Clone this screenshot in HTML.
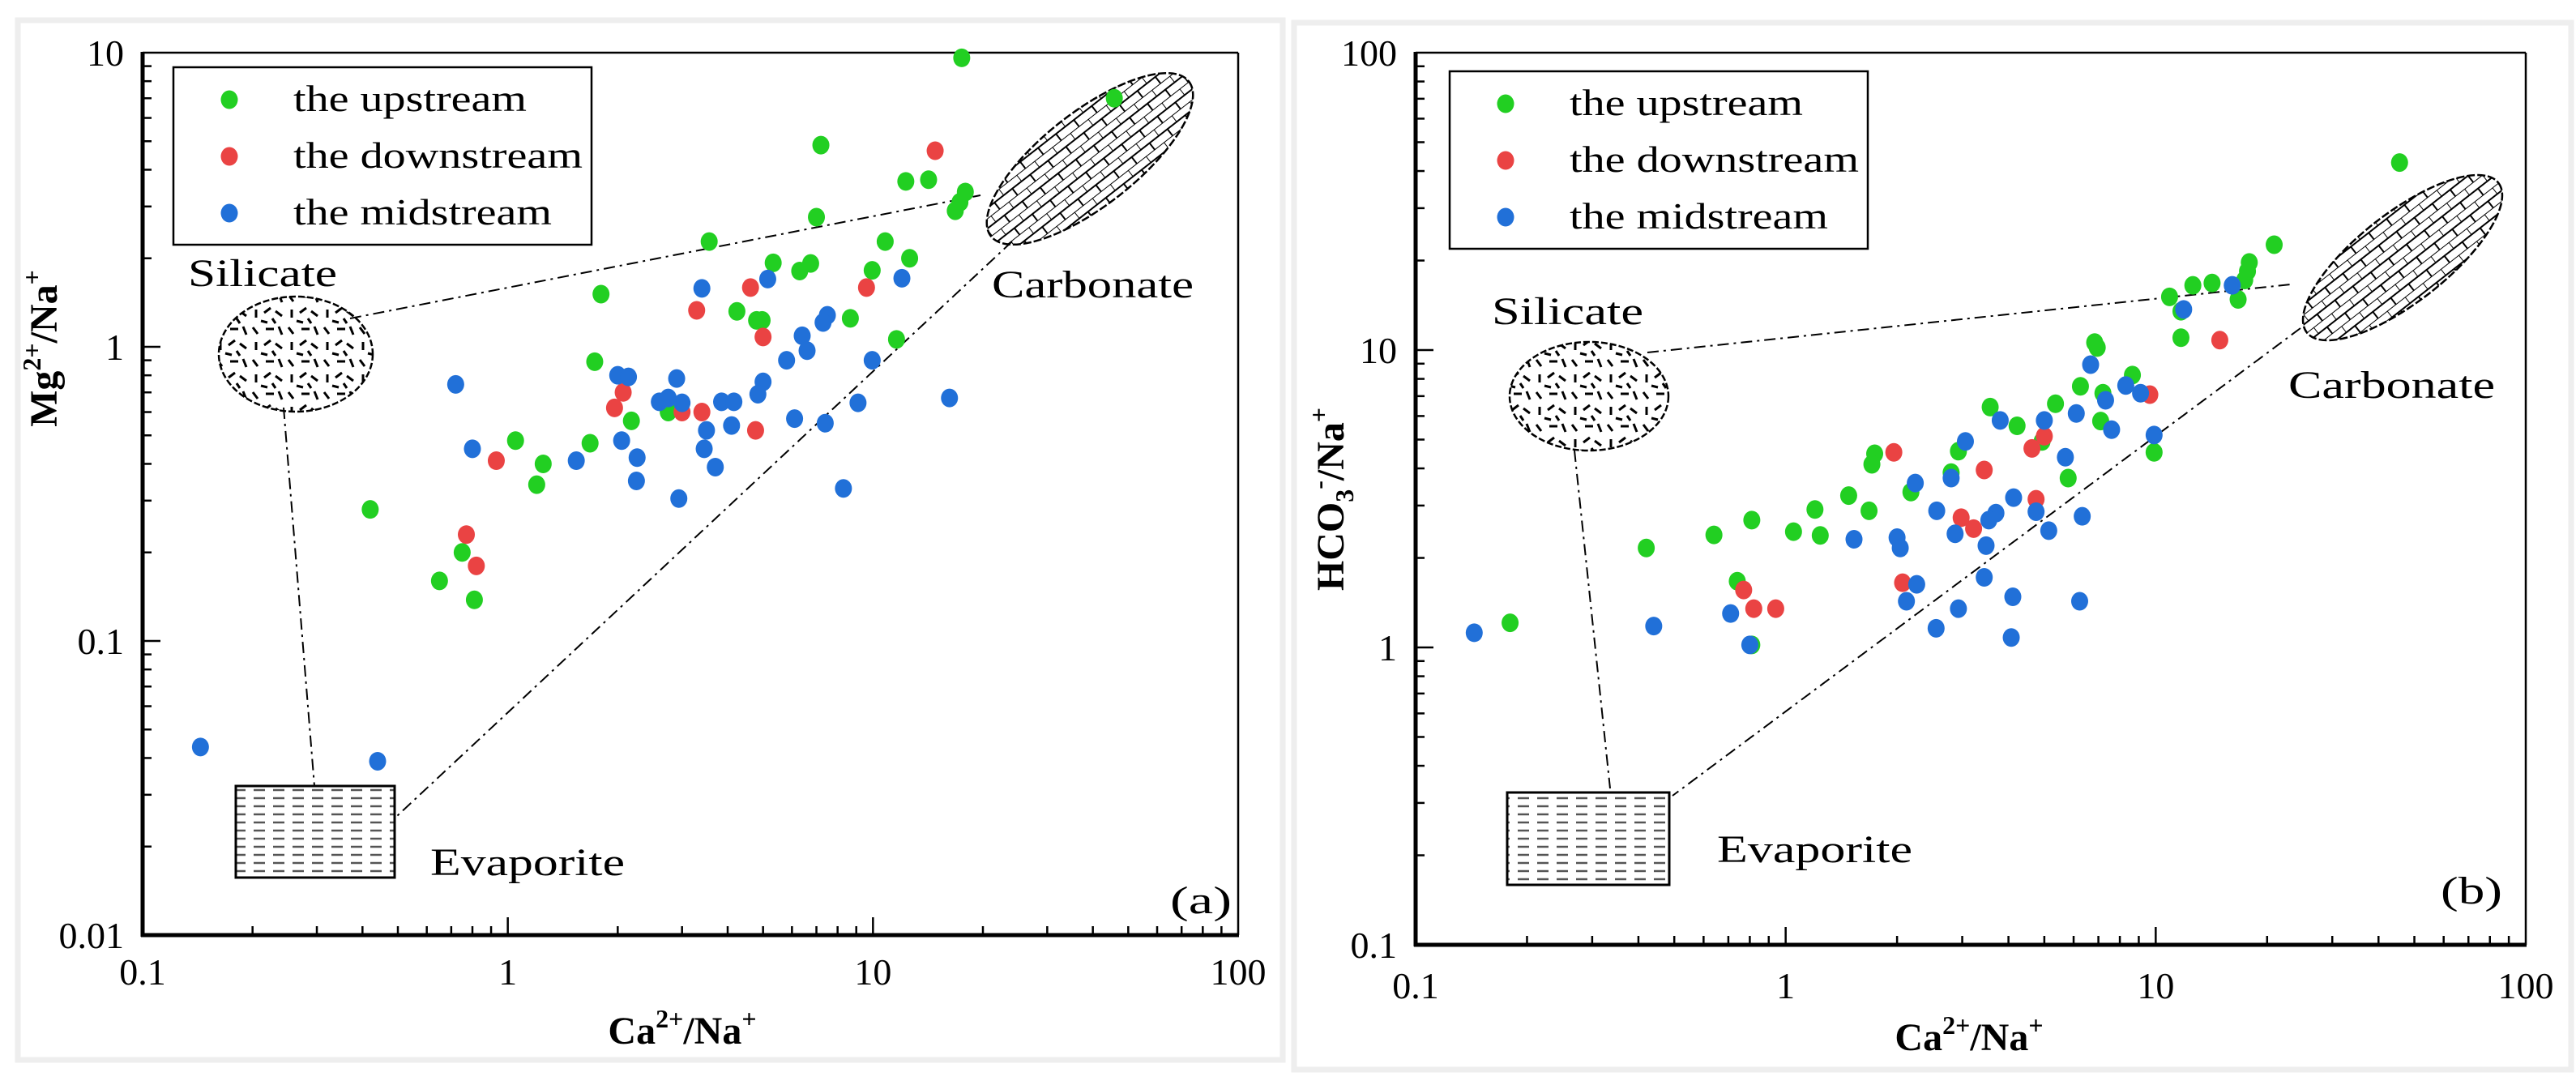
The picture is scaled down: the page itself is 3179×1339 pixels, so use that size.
<!DOCTYPE html>
<html><head><meta charset="utf-8"><style>
html,body{margin:0;padding:0;background:#fff;}
svg{display:block;}
text{font-family:"Liberation Serif","DejaVu Serif",serif;fill:#000;}
</style></head><body>
<svg id="fig" width="3179" height="1339" viewBox="0 0 3179 1339" xmlns="http://www.w3.org/2000/svg">
<defs>
<pattern id="silPat" patternUnits="userSpaceOnUse" width="44" height="40">
<g stroke="#000" stroke-width="3">
<line x1="4" y1="4" x2="10" y2="12"/><line x1="20" y1="6" x2="30" y2="6"/><line x1="36" y1="3" x2="40" y2="13"/>
<line x1="8" y1="22" x2="8" y2="32"/><line x1="18" y1="26" x2="26" y2="20"/><line x1="32" y1="24" x2="40" y2="30"/>
<line x1="14" y1="36" x2="22" y2="38"/><line x1="28" y1="33" x2="32" y2="39"/>
</g></pattern>
<pattern id="evaPat" patternUnits="userSpaceOnUse" width="24" height="10">
<line x1="1" y1="5" x2="15" y2="5" stroke="#555" stroke-width="2.5"/></pattern>
<pattern id="carPat" patternUnits="userSpaceOnUse" width="28" height="20">
<g stroke="#000" stroke-width="2" fill="none"><line x1="0" y1="0" x2="28" y2="0"/><line x1="0" y1="10" x2="28" y2="10"/>
<line x1="0" y1="0" x2="0" y2="10"/><line x1="14" y1="10" x2="14" y2="20"/></g></pattern>
</defs>
<rect x="22" y="25" width="1561" height="1283" fill="none" stroke="#eeeeee" stroke-width="7"/>
<rect x="1597" y="28" width="1576" height="1292" fill="none" stroke="#eeeeee" stroke-width="7"/>
<g id="pa"></g>
<g id="pb"></g>
</svg>
<script>
// ---- Panel (a) data: Ca2+/Na+ vs Mg2+/Na+
const aUpX=[17.5,45.8,7.2,12.3,14.2,17.9,16.8,17.3,7.0,3.56,10.8,12.6,9.95,5.33,6.75,6.3,1.8,4.24,4.8,4.97,8.67,11.6,1.73,2.18,2.75,1.68,1.05,1.25,1.2,0.42,0.75,0.65,0.81];
const aUpY=[9.6,7.0,4.85,3.65,3.7,3.36,2.9,3.1,2.76,2.28,2.28,2.0,1.82,1.93,1.92,1.81,1.51,1.32,1.23,1.23,1.25,1.06,0.89,0.56,0.6,0.47,0.48,0.40,0.34,0.28,0.20,0.16,0.138];
const aDownX=[14.8,4.62,9.6,3.29,5.0,2.07,1.96,3.0,3.4,4.77,0.93,0.77,0.82];
const aDownY=[4.64,1.59,1.59,1.33,1.08,0.70,0.62,0.60,0.60,0.52,0.41,0.23,0.18];
const aMidX=[5.15,3.4,12.0,7.5,7.3,6.4,5.8,6.6,9.95,0.72,2.0,2.14,2.9,5.0,4.84,2.6,3.0,2.75,3.85,4.16,9.1,16.2,3.5,4.1,6.1,7.4,2.05,0.8,1.54,2.26,3.45,3.7,2.25,2.94,8.3,0.144,0.44];
const aMidY=[1.70,1.58,1.71,1.28,1.21,1.09,0.90,0.97,0.90,0.745,0.80,0.79,0.78,0.76,0.69,0.65,0.645,0.67,0.65,0.65,0.645,0.67,0.52,0.54,0.57,0.55,0.48,0.45,0.41,0.42,0.45,0.39,0.35,0.305,0.33,0.0436,0.039];
const aYTicks=["0.01","0.1","1","10"];
// ---- Panel (b) data: Ca2+/Na+ vs HCO3-/Na+
const bUpX=[45.6,20.9,17.9,17.7,17.4,16.7,14.2,12.6,10.9,11.7,11.7,6.84,6.95,8.65,6.26,7.2,5.36,7.1,3.57,4.22,4.93,5.8,9.9,1.74,1.71,2.93,2.8,2.18,1.48,1.68,1.2,0.81,1.05,1.24,0.64,0.42,0.74,0.18,0.81];
const bUpY=[42.7,22.6,19.7,18.4,17.2,14.8,16.8,16.5,15.1,13.5,11.0,10.6,10.2,8.24,7.55,7.16,6.6,5.77,6.43,5.56,4.93,3.71,4.53,4.48,4.13,4.57,3.87,3.33,3.24,2.88,2.91,2.68,2.45,2.38,2.39,2.16,1.67,1.21,1.02];
const bDownX=[14.9,9.64,1.96,3.44,5.0,4.63,4.75,2.98,3.22,0.77,0.82,0.94,2.07];
const bDownY=[10.8,7.08,4.53,3.95,5.13,4.67,3.15,2.73,2.51,1.56,1.35,1.35,1.65];
const bMidX=[16.1,11.9,6.67,8.3,9.1,7.32,6.1,3.8,5.0,7.6,9.9,3.06,5.7,2.8,2.24,4.13,4.75,6.33,2.56,3.7,3.54,2.87,5.14,1.53,2.0,2.04,3.48,3.44,2.26,2.12,4.11,6.23,2.93,0.71,2.55,4.07,0.44,0.144,0.8];
const bMidY=[16.5,13.7,8.93,7.6,7.16,6.78,6.12,5.8,5.8,5.4,5.18,4.93,4.36,3.71,3.57,3.19,2.86,2.76,2.88,2.83,2.68,2.41,2.47,2.31,2.34,2.16,2.2,1.72,1.63,1.43,1.48,1.43,1.35,1.3,1.16,1.08,1.18,1.12,1.02];
const bYTicks=["0.1","1","10","100"];
const xTicks=["0.1","1","10","100"];
const seriesNames=["the upstream","the downstream","the midstream"];
const seriesColors=["#22cf22","#ea4343","#2170d8"];

const NS="http://www.w3.org/2000/svg";
function mk(tag,attrs,parent){const e=document.createElementNS(NS,tag);for(const k in attrs)e.setAttribute(k,attrs[k]);parent.appendChild(e);return e;}

function panel(g,cfg){
  const sx=v=>cfg.x0+(Math.log10(v)-cfg.lxmin)/(cfg.lxmax-cfg.lxmin)*(cfg.x1-cfg.x0);
  const sy=v=>cfg.y0-(Math.log10(v)-cfg.lymin)/(cfg.lymax-cfg.lymin)*(cfg.y0-cfg.y1);
  let e=mk('line',{x1:cfg.x0,y1:cfg.y1,x2:cfg.x1,y2:cfg.y1,stroke:'#000','stroke-width':2.5},g);
  
  e=mk('line',{x1:cfg.x1,y1:cfg.y1,x2:cfg.x1,y2:cfg.y0,stroke:'#000','stroke-width':2.5},g);
  
  e=mk('line',{x1:cfg.x0-2,y1:cfg.y0,x2:cfg.x1+1,y2:cfg.y0,stroke:'#000','stroke-width':5},g);
  
  e=mk('line',{x1:cfg.x0,y1:cfg.y1-1,x2:cfg.x0,y2:cfg.y0+2,stroke:'#000','stroke-width':5},g);
  
  for(let d=cfg.lxmin;d<cfg.lxmax;d++){for(let m=1;m<=9;m++){const v=m*Math.pow(10,d);const x=sx(v);const L=m===1?22:11;
    e=mk('line',{x1:x,y1:cfg.y0,x2:x,y2:cfg.y0-L,stroke:'#000','stroke-width':2.5},g);
    }}
  for(let d=cfg.lymin;d<cfg.lymax;d++){for(let m=1;m<=9;m++){const v=m*Math.pow(10,d);const y=sy(v);const L=m===1?22:11;
    e=mk('line',{x1:cfg.x0,y1:y,x2:cfg.x0+L,y2:y,stroke:'#000','stroke-width':2.5},g);
    }}
  xTicks.forEach((t,i)=>{const x=sx(Math.pow(10,cfg.lxmin+i));
    e=mk('text',{x:x,y:cfg.xlabY,'font-size':46,'text-anchor':'middle'},g);e.textContent=t;
    });
  cfg.yTicks.forEach((t,i)=>{const y=sy(Math.pow(10,cfg.lymin+i));
    e=mk('text',{x:cfg.ylabX,y:y+16,'font-size':46,'text-anchor':'end'},g);e.textContent=t;
    });
  const A=cfg.ann;
  e=mk('polyline',{points:A.l1,fill:'none',stroke:'#000','stroke-width':2,'stroke-dasharray':'14 6 3 6'},g);
  
  e=mk('polyline',{points:A.l2,fill:'none',stroke:'#000','stroke-width':2,'stroke-dasharray':'14 6 3 6'},g);
  
  e=mk('polyline',{points:A.l3,fill:'none',stroke:'#000','stroke-width':2,'stroke-dasharray':'14 6 3 6'},g);
  
  e=mk('ellipse',{cx:A.sil[0],cy:A.sil[1],rx:A.sil[2],ry:A.sil[3],fill:'url(#silPat)',stroke:'#000','stroke-width':2.5,'stroke-dasharray':'8 3'},g);
  
  e=mk('rect',{x:A.eva[0],y:A.eva[1],width:A.eva[2],height:A.eva[3],fill:'url(#evaPat)',stroke:'#000','stroke-width':3},g);
  
  e=mk('ellipse',{cx:0,cy:0,rx:A.car[2],ry:A.car[3],fill:'url(#carPat)',stroke:'#000','stroke-width':2.5,'stroke-dasharray':'10 3',transform:`translate(${A.car[0]},${A.car[1]}) rotate(-38)`},g);
  
  const lab=(txt,x,y,w,name)=>{const t=mk('text',{x:x,y:y,'font-size':48,textLength:w,lengthAdjust:'spacingAndGlyphs'},g);t.textContent=txt;
    };
  lab('Silicate',A.silT[0],A.silT[1],A.silT[2],'silicate-label');
  lab('Evaporite',A.evaT[0],A.evaT[1],A.evaT[2],'evaporite-label');
  lab('Carbonate',A.carT[0],A.carT[1],A.carT[2],'carbonate-label');
  lab(cfg.tag,A.tagT[0],A.tagT[1],A.tagT[2],'panel-tag');
  const sets=[[cfg.upX,cfg.upY],[cfg.downX,cfg.downY],[cfg.midX,cfg.midY]];
  sets.forEach((s,si)=>{s[0].forEach((xv,i)=>{
    const c=mk('ellipse',{cx:sx(xv),cy:sy(s[1][i]),rx:10.5,ry:11.5,fill:seriesColors[si]},g);
    
    });});
  const L=cfg.leg;
  e=mk('rect',{x:L.x,y:L.y,width:516,height:219,fill:'#fff',stroke:'#000','stroke-width':2.5},g);
  
  const lw=[288,357,319];
  seriesNames.forEach((n,i)=>{const cy=L.y+40+i*70;
    const m=mk('ellipse',{cx:L.x+69,cy:cy,rx:10.5,ry:11.5,fill:seriesColors[i]},g);
    
    const t=mk('text',{x:L.x+148,y:cy+14,'font-size':46,textLength:lw[i],lengthAdjust:'spacingAndGlyphs'},g);t.textContent=n;
    });
  const xt=mk('text',{x:cfg.xt[0],y:cfg.xt[1],'font-size':48,'font-weight':'bold','text-anchor':'middle'},g);
  
  xt.innerHTML='Ca<tspan dy="-20" font-size="32">2+</tspan><tspan dy="20">/Na</tspan><tspan dy="-20" font-size="32">+</tspan>';
  const yt=mk('text',{x:0,y:0,'font-size':48,'font-weight':'bold','text-anchor':'middle',transform:`translate(${cfg.yt[0]},${cfg.yt[1]}) rotate(-90)`},g);
  
  yt.innerHTML=cfg.ytHTML;
}

panel(document.getElementById('pa'),{x0:176,x1:1528,y0:1154,y1:65,lxmin:-1,lxmax:2,lymin:-2,lymax:1,
  yTicks:aYTicks,xlabY:1215,ylabX:153,tag:'(a)',
  upX:aUpX,upY:aUpY,downX:aDownX,downY:aDownY,midX:aMidX,midY:aMidY,
  leg:{x:214,y:83},xt:[842,1288],yt:[70,430],
  ytHTML:'Mg<tspan dy="-20" font-size="32">2+</tspan><tspan dy="20">/Na</tspan><tspan dy="-20" font-size="32">+</tspan>',
  ann:{l1:'432,393 1210,241',l2:'1249,298 490,1007',l3:'350,503 388,970',
    sil:[365,437,95,71],eva:[291,970,196,113],car:[1345,196,155,58],
    silT:[232,353,184],evaT:[531,1080,240],carT:[1224,367,249],tagT:[1444,1127,76]}});
panel(document.getElementById('pb'),{x0:1747,x1:3117,y0:1166,y1:65,lxmin:-1,lxmax:2,lymin:-1,lymax:2,
  yTicks:bYTicks,xlabY:1232,ylabX:1724,tag:'(b)',
  upX:bUpX,upY:bUpY,downX:bDownX,downY:bDownY,midX:bMidX,midY:bMidY,
  leg:{x:1789,y:88},xt:[2430,1296],yt:[1658,616],
  ytHTML:'HCO<tspan dy="12" font-size="32">3</tspan><tspan dy="-32" font-size="32">-</tspan><tspan dy="20">/Na</tspan><tspan dy="-20" font-size="32">+</tspan>',
  ann:{l1:'2033,435 2827,351',l2:'2839,405 2064,982',l3:'1943,556 1987,973',
    sil:[1961,489,98,67],eva:[1860,978,200,114],car:[2965,318,150,55],
    silT:[1841,400,187],evaT:[2119,1064,241],carT:[2824,491,255],tagT:[3012,1115,76]}});
</script>
</body></html>
